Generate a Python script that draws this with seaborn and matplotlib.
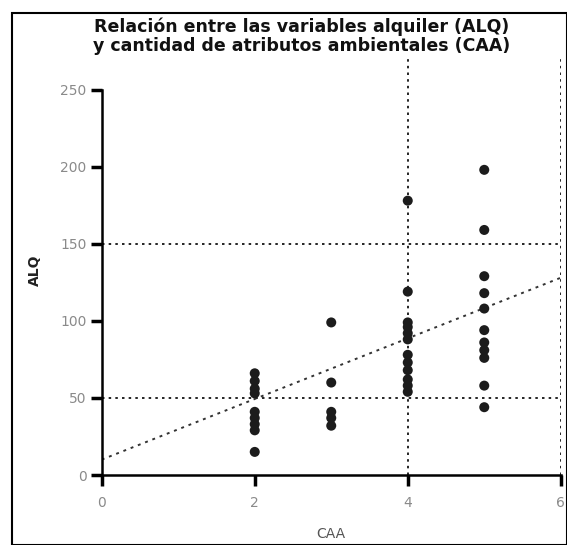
import matplotlib
matplotlib.use("Agg")
import matplotlib.pyplot as plt
import seaborn as sns
import pandas as pd
from matplotlib.patches import Rectangle

# ---- data ----
caa_2 = [66, 61, 56, 53, 41, 37, 33, 29, 15]
caa_3 = [99, 60, 41, 37, 32]
caa_4 = [178, 119, 99, 96, 92, 88, 78, 73, 68, 62, 58, 54]
caa_5 = [198, 159, 129, 118, 108, 94, 86, 81, 76, 58, 44]
caa_levels = [2, 3, 4, 5]
trend_x = [0, 6]
trend_y = [10, 128]
x_ticks = [0, 2, 4, 6]
y_ticks = [0, 50, 100, 150, 200, 250]

title = "Relación entre las variables alquiler (ALQ)\ny cantidad de atributos ambientales (CAA)"

rows = []
for lvl, vals in zip(caa_levels, [caa_2, caa_3, caa_4, caa_5]):
    for v in vals:
        rows.append({"CAA": lvl, "ALQ": v})
df = pd.DataFrame(rows)
trend = pd.DataFrame({"CAA": trend_x, "ALQ": trend_y})

sns.set_style("white")
plt.rcParams["font.family"] = ["DejaVu Sans"]

fig = plt.figure(figsize=(5.67, 5.45), dpi=100)
ax = fig.add_axes([0.1794, 0.1284, 0.8096, 0.7650])

# reference grid lines (dotted)
for gy in (50, 150):
    ax.axhline(gy, color="black", lw=1.2, ls=(0, (1.5, 2.5)), zorder=1)
for gx in (4, 6):
    ax.axvline(gx, color="black", lw=1.2, ls=(0, (1.5, 2.5)), zorder=1)

sns.lineplot(data=trend, x="CAA", y="ALQ", ax=ax, color="#333333", lw=1.4,
             linestyle=(0, (1.5, 2.5)), zorder=2)
sns.scatterplot(data=df, x="CAA", y="ALQ", ax=ax, color="#1c1c1c", s=52,
                edgecolor="none", zorder=3)

ax.set_xlim(0, 6)
ax.set_ylim(0, 270.5)
ax.set_xticks(x_ticks)
ax.set_yticks(y_ticks)
ax.tick_params(axis="both", direction="out", length=8, width=2.5, color="black",
               labelsize=10, labelcolor="#8a8a8a", bottom=True, left=True)
ax.tick_params(axis="x", pad=7)
ax.tick_params(axis="y", pad=3)
for side in ("top", "right"):
    ax.spines[side].set_visible(False)
for side in ("left", "bottom"):
    ax.spines[side].set_color("black")
    ax.spines[side].set_linewidth(1.8)
ax.spines["left"].set_bounds(0, 250)

ax.set_xlabel("CAA", fontsize=10, color="#555555")
ax.xaxis.set_label_coords(0.5, -0.124)
ax.set_ylabel("ALQ", fontsize=10, color="#222222", fontweight="bold")
ax.yaxis.set_label_coords(-0.13, 0.49)

fig.text(0.532, 0.968, title, ha="center", va="top", fontsize=12.5,
         fontweight="bold", color="#111111", linespacing=1.05)

# outer frame
fig.patches.append(Rectangle((12 / 567, 0.0), 1 - 12 / 567, 1 - 13 / 545,
                             transform=fig.transFigure, fill=False,
                             edgecolor="black", lw=1.5))

fig.savefig("out.png", dpi=100)
